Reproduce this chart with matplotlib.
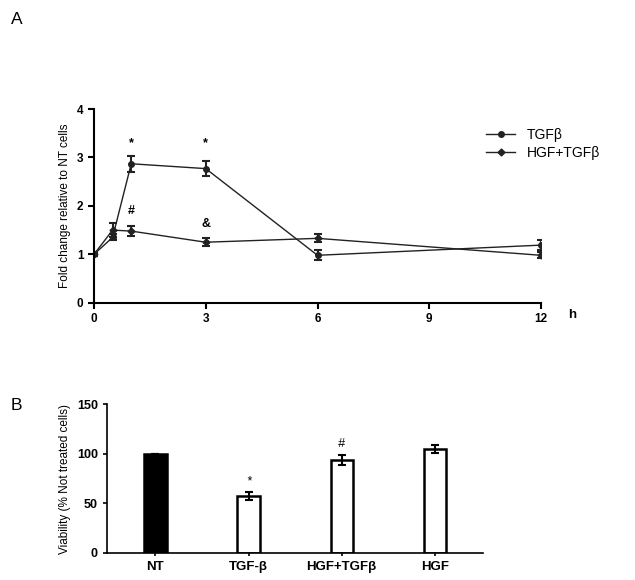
import matplotlib.pyplot as plt
from matplotlib.lines import Line2D

plt.rcParams['font.family'] = ['Liberation Sans', 'DejaVu Sans']

# === Panel A data: fold change vs time (h) ===
time_h = [0, 0.5, 1, 3, 6, 12]
tgf = [1.0, 1.35, 2.87, 2.77, 0.98, 1.19]
tgf_err = [0.03, 0.06, 0.17, 0.15, 0.10, 0.10]
hgf_tgf = [1.0, 1.50, 1.48, 1.25, 1.33, 0.98]
hgf_tgf_err = [0.03, 0.15, 0.10, 0.08, 0.08, 0.06]
xticks_a = [0, 3, 6, 9, 12]
yticks_a = [0, 1, 2, 3, 4]

# significance marks (x, y, text)
marks_a = [(1, 3.3, "*"), (3, 3.3, "*"), (1, 1.9, "#"), (3, 1.62, "&")]

# === Panel B data: viability ===
groups = ["NT", "TGF-β", "HGF+TGFβ", "HGF"]
viability = [100, 57, 94, 105]
viability_err = [0, 4, 5, 4]
bar_marks = ["", "*", "#", ""]
yticks_b = [0, 50, 100, 150]

fig = plt.figure(figsize=(6.35, 5.8), dpi=100)

# --- Panel A ---
ax1 = fig.add_axes([0.148, 0.478, 0.704, 0.334])
ax1.errorbar(time_h, tgf, yerr=tgf_err, color="#222222", marker="o", markersize=4,
             linewidth=1.0, elinewidth=1.5, capsize=3, capthick=1.5)
ax1.errorbar(time_h, hgf_tgf, yerr=hgf_tgf_err, color="#222222", marker="D", markersize=3.5,
             linewidth=1.0, elinewidth=1.5, capsize=3, capthick=1.5)
for x, y, t in marks_a:
    ax1.text(x, y, t, ha="center", va="center", fontsize=9, fontweight="bold")

ax1.set_xlim(0, 12)
ax1.set_ylim(0, 4)
ax1.set_xticks(xticks_a)
ax1.set_yticks(yticks_a)
ax1.set_ylabel("Fold change relative to NT cells", fontsize=8.5)
ax1.text(12.85, -0.25, "h", ha="center", va="center", fontsize=9.5, fontweight="bold")
ax1.tick_params(labelsize=8.5, width=1.5, length=4)
for lab in ax1.get_xticklabels() + ax1.get_yticklabels():
    lab.set_fontweight("bold")
for s in ["top", "right"]:
    ax1.spines[s].set_visible(False)
for s in ["left", "bottom"]:
    ax1.spines[s].set_linewidth(1.5)

handles = [Line2D([], [], color="#222222", marker="o", markersize=4, linewidth=1.0),
           Line2D([], [], color="#222222", marker="D", markersize=3.5, linewidth=1.0)]
ax1.legend(handles, ["TGFβ", "HGF+TGFβ"], loc="upper left", bbox_to_anchor=(0.865, 0.93),
           frameon=False, fontsize=10, handlelength=2.1, handletextpad=0.8,
           labelspacing=0.3, borderaxespad=0)

fig.text(0.017, 0.958, "A", fontsize=12.5)

# --- Panel B ---
ax2 = fig.add_axes([0.1685, 0.0466, 0.5925, 0.2568])
pos = range(len(groups))
colors = ["black", "white", "white", "white"]
ax2.bar(pos, viability, width=0.24, color=colors, edgecolor="black", linewidth=1.8,
        yerr=viability_err, error_kw=dict(elinewidth=1.5, capsize=3, capthick=1.5))
for i, t in enumerate(bar_marks):
    if t:
        ax2.text(i, viability[i] + viability_err[i] + 11, t, ha="center", va="center",
                 fontsize=9, fontstyle="italic")

ax2.set_xlim(-0.52, 3.52)
ax2.set_ylim(0, 150)
ax2.set_xticks(list(pos))
ax2.set_xticklabels(groups, fontweight="bold", fontsize=9.5)
ax2.set_yticks(yticks_b)
ax2.set_ylabel("Viability (% Not treated cells)", fontsize=8.5)
ax2.tick_params(axis="y", labelsize=9, width=1.2, length=3)
ax2.tick_params(axis="x", width=1.2, length=2)
for lab in ax2.get_yticklabels():
    lab.set_fontweight("bold")
for s in ["top", "right"]:
    ax2.spines[s].set_visible(False)
for s in ["left", "bottom"]:
    ax2.spines[s].set_linewidth(1.2)

fig.text(0.017, 0.293, "B", fontsize=12.5)

fig.savefig("out.png", dpi=100)
